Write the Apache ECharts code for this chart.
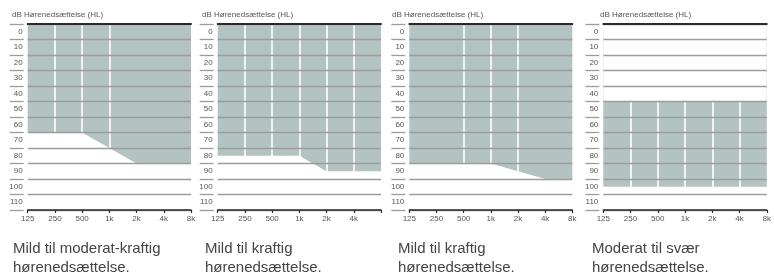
<!DOCTYPE html>
<html><head><meta charset="utf-8">
<script src="https://cdn.jsdelivr.net/npm/echarts@6/dist/echarts.min.js"></script>
<style>html,body{margin:0;padding:0;background:#fff}#c{width:774px;height:277px}</style>
</head><body><div id="c"></div>
<script>
// ---- data ----
const dbLabels = ['0','10','20','30','40','50','60','70','80','90','100','110'];
const freqLabels = ['125','250','500','1k','2k','4k','8k'];
const freqLabelsP2 = ['125','250','500','1k','2k','4k',''];
const p1Curve = [65,65,65,75,85,85,85];
const p2Curve = [80,80,80,80,90,90,90];
const p3Curve = [85,85,85,85,90,95,95];
const p4Upper = [45,45,45,45,45,45,45];
const p4Lower = [100,100,100,100,100,100,100];
const p1Sep = ['250','500','1k'];
const p2Sep = ['250','500','1k','2k','4k'];
const p3Sep = ['500','1k','2k'];
const p4Sep = ['250','500','1k','2k','4k'];
const titleText = 'dB Hørenedsættelse (HL)';
const captions = [
  'Mild til moderat-kraftig\nhørenedsættelse.',
  'Mild til kraftig\nhørenedsættelse.',
  'Mild til kraftig\nhørenedsættelse.',
  'Moderat til svær\nhørenedsættelse.'
];

// ---- layout / style ----
const FONT = 'Liberation Sans, Arial, sans-serif';
const FILL = '#b3c3c1';
const GRID_C = '#9c9c9c';
const DARK = '#2a2a2a';
const TXT = '#555';
const panels = [
  {left:27.7, width:163.3, labels:freqLabels,   sep:p1Sep, titleX:12,  capX:13},
  {left:217.7,width:163.3, labels:freqLabelsP2, sep:p2Sep, titleX:202, capX:205},
  {left:409.3,width:163,   labels:freqLabels,   sep:p3Sep, titleX:392, capX:398},
  {left:603.3,width:165,   labels:freqLabels,   sep:p4Sep, titleX:600, capX:592}
];
const curves = [p1Curve, p2Curve, p3Curve];

const grid = [], xAxis = [], yAxis = [], series = [], title = [];
panels.forEach((p, i) => {
  grid.push({left:p.left, width:p.width, top:24, height:186, containLabel:false});
  // bottom frequency axis
  xAxis.push({
    type:'value', gridIndex:i, min:0, max:6, interval:1, position:'bottom', z:4,
    axisLine:{show:true, onZero:false, lineStyle:{color:DARK, width:1.5}},
    axisTick:{show:true, length:3, lineStyle:{color:DARK, width:1.2}},
    axisLabel:{show:true, margin:5, fontSize:8, color:TXT, fontFamily:FONT,
      formatter:(v)=>p.labels[Math.round(v)] || ''},
    splitLine:{show:false}
  });
  // top border line
  xAxis.push({
    type:'value', gridIndex:i, min:0, max:6, position:'top', z:4,
    axisLine:{show:true, onZero:false, lineStyle:{color:DARK, width:2}},
    axisTick:{show:false}, axisLabel:{show:false}, splitLine:{show:false}
  });
  // dB labels + grid lines
  yAxis.push({
    type:'category', gridIndex:i, data:dbLabels, inverse:true, offset:4, z:3,
    axisLine:{show:false, onZero:false},
    axisTick:{show:true, length:14, interval:0, lineStyle:{color:GRID_C, width:1.3}},
    axisLabel:{show:true, interval:0, margin:1, fontSize:8, color:TXT, fontFamily:FONT},
    splitLine:{show:true, interval:0, lineStyle:{color:GRID_C, width:1.3}}
  });
  // hidden value axis for data
  yAxis.push({
    type:'value', gridIndex:i, min:-5, max:115, inverse:true, show:false,
    axisLine:{onZero:false}, splitLine:{show:false}
  });
  const vIdx = i*2 + 1, xIdx = i*2;
  const sepLine = {
    silent:true, symbol:['none','none'], z:1, animation:false,
    label:{show:false},
    lineStyle:{color:'#fff', width:1.6, type:'solid'},
    data:p.sep.map(f => ({xAxis: freqLabels.indexOf(f)}))
  };
  if (i < 3) {
    series.push({
      type:'line', xAxisIndex:xIdx, yAxisIndex:vIdx, z:0, symbol:'none',
      data:curves[i].map((v,k)=>[k,v]),
      lineStyle:{width:0}, areaStyle:{color:FILL, opacity:1, origin:'start'},
      markLine:sepLine
    });
  } else {
    // band 45..100: grey to lower edge, white cover to upper edge
    series.push({
      type:'line', xAxisIndex:xIdx, yAxisIndex:vIdx, z:0, symbol:'none',
      data:p4Lower.map((v,k)=>[k,v]),
      lineStyle:{width:0}, areaStyle:{color:FILL, opacity:1, origin:'start'}
    });
    series.push({
      type:'line', xAxisIndex:xIdx, yAxisIndex:vIdx, z:0, symbol:'none',
      data:p4Upper.map((v,k)=>[k,v]),
      lineStyle:{width:0}, areaStyle:{color:'#fff', opacity:1, origin:'start'},
      markLine:sepLine
    });
  }
  title.push({text:titleText, left:p.titleX, top:9.5, padding:0,
    textStyle:{fontSize:8, fontWeight:'normal', color:TXT, fontFamily:FONT, lineHeight:10}});
  title.push({text:captions[i], left:p.capX, top:239, padding:0,
    textStyle:{fontSize:15, fontWeight:'normal', color:'#444', fontFamily:FONT, lineHeight:19}});
});

const chart = echarts.init(document.getElementById('c'), null, {renderer:'canvas'});
chart.setOption({animation:false, backgroundColor:'#fff', title, grid, xAxis, yAxis, series});
</script>
</body></html>
